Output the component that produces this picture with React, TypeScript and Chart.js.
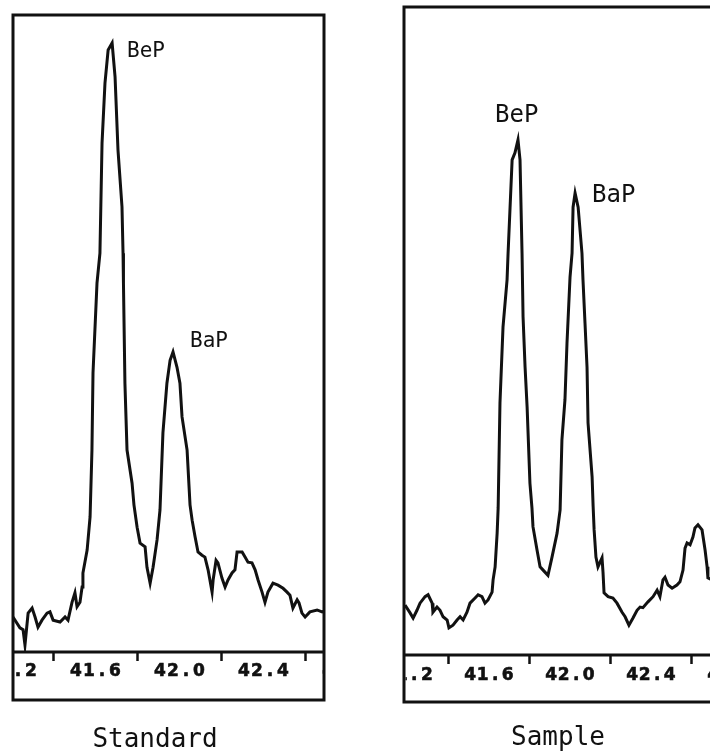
import React, { useEffect, useRef } from "react";
import { Chart, registerables } from "chart.js";

Chart.register(...registerables);

// ---- data ----
const standardRetention = [
  41.207, 41.24, 41.255, 41.264, 41.279, 41.298, 41.312, 41.326, 41.345, 41.369,
  41.383, 41.398, 41.431, 41.455, 41.469, 41.488, 41.502, 41.512, 41.526, 41.536,
  41.54, 41.56, 41.574, 41.583, 41.588, 41.607, 41.621, 41.631, 41.645, 41.66,
  41.679, 41.693, 41.707, 41.726, 41.731, 41.733, 41.74, 41.75, 41.774, 41.783,
  41.798, 41.812, 41.836, 41.845, 41.86, 41.874, 41.893, 41.907, 41.921, 41.94,
  41.955, 41.969, 41.988, 42.002, 42.012, 42.036, 42.05, 42.06, 42.074, 42.088,
  42.107, 42.121, 42.136, 42.155, 42.16, 42.174, 42.183, 42.202, 42.217, 42.231,
  42.25, 42.264, 42.274, 42.298, 42.312, 42.326, 42.345, 42.36, 42.374, 42.393,
  42.407, 42.421, 42.445, 42.469, 42.493, 42.512, 42.526, 42.54, 42.56, 42.569,
  42.583, 42.598, 42.621, 42.655, 42.679, 42.688,
];
const standardSignal = [
  5.5, 3.8, 3.5, 1.1, 6.1, 6.9, 5.5, 3.9, 5.0, 6.1,
  6.3, 5.0, 4.7, 5.5, 5.0, 7.8, 9.3, 7.1, 7.8, 10.2,
  12.4, 16.0, 21.2, 31.7, 43.8, 57.9, 62.6, 79.9, 89.3, 94.5,
  95.6, 90.3, 78.8, 69.9, 62.6, 57.9, 42.2, 31.7, 26.5, 23.1,
  19.6, 17.1, 16.5, 13.3, 10.8, 13.3, 17.6, 22.3, 34.4, 42.2,
  45.8, 47.1, 44.7, 42.2, 36.9, 31.7, 23.1, 20.7, 18.1, 15.7,
  15.2, 14.9, 12.9, 9.4, 11.3, 14.4, 14.0, 11.6, 10.2, 11.3,
  12.4, 12.9, 15.7, 15.7, 14.9, 14.1, 14.0, 12.9, 11.3, 9.4,
  7.8, 9.4, 10.8, 10.5, 10.0, 9.4, 8.9, 6.9, 8.2, 7.7,
  6.1, 5.5, 6.3, 6.6, 6.3, 6.4,
];

const sampleRetention = [
  41.185, 41.21, 41.225, 41.244, 41.259, 41.284, 41.299, 41.319, 41.323, 41.343,
  41.358, 41.373, 41.393, 41.402, 41.422, 41.442, 41.457, 41.472, 41.491, 41.506,
  41.531, 41.546, 41.565, 41.58, 41.595, 41.615, 41.62, 41.63, 41.64, 41.645,
  41.654, 41.669, 41.689, 41.694, 41.714, 41.728, 41.743, 41.753, 41.763, 41.768,
  41.778, 41.788, 41.802, 41.812, 41.817, 41.837, 41.852, 41.867, 41.891, 41.911,
  41.936, 41.951, 41.96, 41.975, 41.985, 42.0, 42.01, 42.015, 42.025, 42.04,
  42.059, 42.064, 42.074, 42.084, 42.089, 42.109, 42.114, 42.119, 42.128, 42.138,
  42.158, 42.163, 42.168, 42.188, 42.212, 42.232, 42.257, 42.272, 42.291, 42.311,
  42.331, 42.346, 42.36, 42.385, 42.41, 42.43, 42.444, 42.459, 42.469, 42.484,
  42.504, 42.528, 42.543, 42.558, 42.568, 42.578, 42.593, 42.607, 42.617, 42.632,
  42.652, 42.667, 42.677, 42.681, 42.701, 42.716,
];
const sampleSignal = [
  7.7, 6.5, 5.7, 6.9, 8.0, 9.0, 9.3, 8.0, 6.6, 7.4,
  6.9, 5.9, 5.4, 4.2, 4.6, 5.4, 5.9, 5.4, 6.6, 8.0,
  8.8, 9.3, 9.0, 8.0, 8.5, 9.7, 11.6, 13.6, 18.8, 22.7,
  38.9, 50.6, 57.9, 62.0, 76.4, 77.5, 79.5, 76.4, 62.0, 52.2,
  44.4, 38.3, 26.5, 22.7, 19.8, 16.2, 13.6, 13.1, 12.3, 15.1,
  18.8, 22.4, 33.2, 39.4, 48.1, 58.3, 62.0, 69.1, 71.3, 69.1,
  62.0, 57.9, 51.2, 44.4, 35.8, 27.5, 23.0, 19.3, 15.1, 13.6,
  15.0, 12.7, 9.6, 9.0, 8.8, 8.0, 6.6, 5.9, 4.6, 5.7,
  6.9, 7.4, 7.3, 8.2, 9.0, 10.0, 9.0, 11.6, 12.0, 10.8,
  10.3, 10.8, 11.3, 13.1, 16.5, 17.3, 17.0, 18.2, 19.6, 20.1,
  19.3, 16.2, 13.6, 11.9, 11.6, 10.8,
];

const tickMarkValues = [41.4, 41.8, 42.2, 42.6];
const tickLabelValues = [41.2, 41.6, 42.0, 42.4, 42.8];

const standardPeakNames = ["BeP", "BaP"];
const standardPeakLabelX = [41.75, 42.05];
const standardPeakLabelY = [93.4, 47.9];

const samplePeakNames = ["BeP", "BaP"];
const samplePeakLabelX = [41.63, 42.109];
const samplePeakLabelY = [82.3, 69.9];

const panelTitles = ["Standard", "Sample"];

// ---- component ----
type PanelProps = {
  retention: number[];
  signal: number[];
  xMin: number;
  xMax: number;
  peakNames: string[];
  peakX: number[];
  peakY: number[];
  title: string;
  canvasLeft: number;
  canvasWidth: number;
  padding: { left: number; right: number; top: number; bottom: number };
  stripHeight: number;
  labelOffset: number;
  labelPitch: number;
  peakFontSize: number;
  titleX: number;
  titleY: number;
};

const INK = "#111";

function Panel(p: PanelProps) {
  const ref = useRef<HTMLCanvasElement | null>(null);

  useEffect(() => {
    if (!ref.current) return;
    const decor = {
      id: "panelDecor",
      afterDraw(chart: any) {
        const { ctx, chartArea: a, scales } = chart;
        const xs = scales.x;
        const ys = scales.y;
        const stripBottom = a.bottom + p.stripHeight;
        ctx.save();
        ctx.strokeStyle = INK;
        ctx.lineWidth = 3;
        ctx.strokeRect(a.left, a.top, a.right - a.left, stripBottom - a.top);
        ctx.beginPath();
        ctx.moveTo(a.left, a.bottom);
        ctx.lineTo(a.right, a.bottom);
        ctx.stroke();

        // tick labels (typewriter pitch), clipped to the strip box
        ctx.save();
        ctx.beginPath();
        ctx.rect(a.left + 1.5, a.bottom + 1.5, a.right - a.left - 3, p.stripHeight - 3);
        ctx.clip();
        ctx.fillStyle = INK;
        ctx.strokeStyle = INK;
        ctx.lineWidth = 0.6;
        ctx.font = "bold 17px 'DejaVu Sans', sans-serif";
        ctx.textAlign = "center";
        ctx.textBaseline = "middle";
        tickLabelValues.forEach((v) => {
          const text = v.toFixed(1);
          const cx = xs.getPixelForValue(v);
          const start = cx - (text.length * p.labelPitch) / 2;
          for (let i = 0; i < text.length; i++) {
            const chx = start + p.labelPitch * (i + 0.5);
            ctx.fillText(text[i], chx, a.bottom + p.labelOffset);
            ctx.strokeText(text[i], chx, a.bottom + p.labelOffset);
          }
        });
        ctx.restore();

        // peak labels
        ctx.fillStyle = INK;
        ctx.font = `${p.peakFontSize}px 'DejaVu Sans Mono'`;
        ctx.textAlign = "left";
        ctx.textBaseline = "alphabetic";
        p.peakNames.forEach((name, i) => {
          ctx.fillText(name, xs.getPixelForValue(p.peakX[i]), ys.getPixelForValue(p.peakY[i]));
        });

        // title
        ctx.font = "26px 'DejaVu Sans Mono'";
        ctx.textAlign = "center";
        ctx.fillText(p.title, p.titleX, p.titleY);
        ctx.restore();
      },
    };

    const chart = new Chart(ref.current, {
      type: "line",
      data: {
        datasets: [
          {
            data: p.retention.map((x, i) => ({ x, y: p.signal[i] })),
            borderColor: INK,
            borderWidth: 3,
            pointRadius: 0,
            tension: 0,
            fill: false,
          },
        ],
      },
      options: {
        responsive: false,
        animation: false,
        events: [],
        layout: { padding: p.padding },
        plugins: { legend: { display: false }, tooltip: { enabled: false }, title: { display: false } },
        scales: {
          x: {
            type: "linear",
            min: p.xMin,
            max: p.xMax,
            afterBuildTicks: (scale: any) => {
              scale.ticks = tickMarkValues.map((value) => ({ value }));
            },
            afterFit: (scale: any) => {
              scale.height = p.stripHeight;
            },
            ticks: { display: false },
            border: { display: false },
            grid: {
              display: true,
              drawOnChartArea: false,
              drawTicks: true,
              tickLength: 9,
              tickWidth: 2.5,
              tickColor: INK,
              color: INK,
            },
          },
          y: { type: "linear", min: 0, max: 100, display: false },
        },
      },
      plugins: [decor],
    } as any);
    return () => chart.destroy();
  }, []);

  return (
    <canvas
      ref={ref}
      width={p.canvasWidth}
      height={755}
      style={{ position: "absolute", left: p.canvasLeft, top: 0, width: p.canvasWidth, height: 755 }}
    />
  );
}

export default function App() {
  return (
    <div
      style={{
        position: "absolute",
        left: 0,
        top: 0,
        width: 710,
        height: 755,
        overflow: "hidden",
        background: "#fff",
      }}
    >
      <Panel
        retention={standardRetention}
        signal={standardSignal}
        xMin={41.207}
        xMax={42.688}
        peakNames={standardPeakNames}
        peakX={standardPeakLabelX}
        peakY={standardPeakLabelY}
        title={panelTitles[0]}
        canvasLeft={0}
        canvasWidth={340}
        padding={{ left: 13, right: 16, top: 15, bottom: 55 }}
        stripHeight={48}
        labelOffset={20}
        labelPitch={13}
        peakFontSize={21}
        titleX={155}
        titleY={747}
      />
      <Panel
        retention={sampleRetention}
        signal={sampleSignal}
        xMin={41.18}
        xMax={42.716}
        peakNames={samplePeakNames}
        peakX={samplePeakLabelX}
        peakY={samplePeakLabelY}
        title={panelTitles[1]}
        canvasLeft={380}
        canvasWidth={340}
        padding={{ left: 24, right: 5, top: 7, bottom: 53 }}
        stripHeight={47}
        labelOffset={21}
        labelPitch={12.5}
        peakFontSize={24}
        titleX={178}
        titleY={745}
      />
    </div>
  );
}
